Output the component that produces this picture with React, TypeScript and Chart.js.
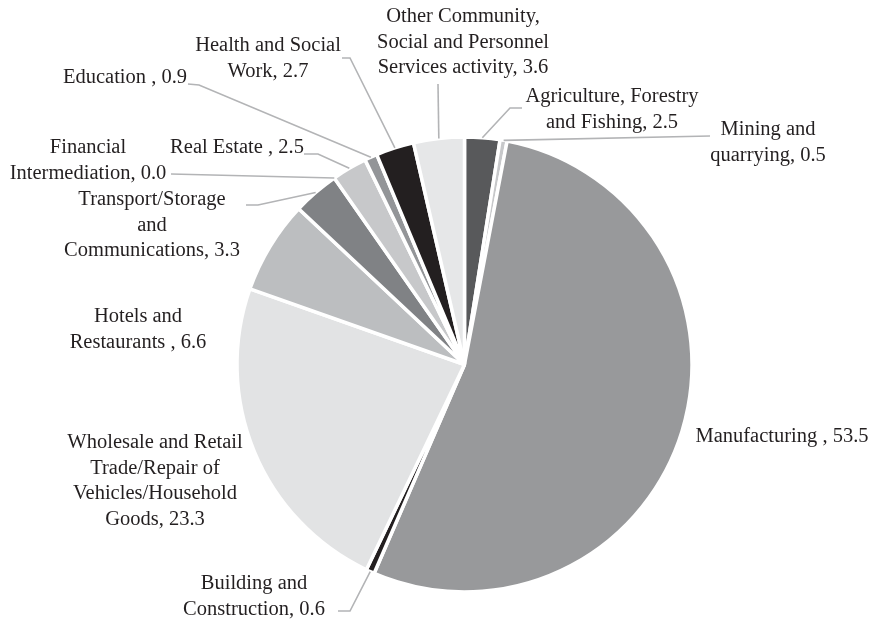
import React, { useEffect, useRef } from "react";
import { Chart, registerables } from "chart.js";

Chart.register(...registerables);

const categories = [
  "Agriculture, Forestry and Fishing",
  "Mining and quarrying",
  "Manufacturing",
  "Building and Construction",
  "Wholesale and Retail Trade/Repair of Vehicles/Household Goods",
  "Hotels and Restaurants",
  "Transport/Storage and Communications",
  "Financial Intermediation",
  "Real Estate",
  "Education",
  "Health and Social Work",
  "Other Community, Social and Personnel Services activity",
];

const values = [2.5, 0.5, 53.5, 0.6, 23.3, 6.6, 3.3, 0.0, 2.5, 0.9, 2.7, 3.6];

const labelLines = [
  ["Agriculture, Forestry", "and Fishing, 2.5"],
  ["Mining and", "quarrying, 0.5"],
  ["Manufacturing , 53.5"],
  ["Building and", "Construction, 0.6"],
  ["Wholesale and Retail", "Trade/Repair of", "Vehicles/Household", "Goods, 23.3"],
  ["Hotels and", "Restaurants , 6.6"],
  ["Transport/Storage", "and", "Communications, 3.3"],
  ["Financial", "Intermediation, 0.0"],
  ["Real Estate , 2.5"],
  ["Education , 0.9"],
  ["Health and Social", "Work, 2.7"],
  ["Other Community,", "Social and Personnel", "Services activity, 3.6"],
];

const colors = [
  "#58595b",
  "#c7c8ca",
  "#98999b",
  "#231f20",
  "#e2e3e4",
  "#bcbec0",
  "#808285",
  "#a7a9ac",
  "#c7c8ca",
  "#939598",
  "#231f20",
  "#e6e7e8",
];

// label layout: center x, first-line center y
const labelPos: [number, number][] = [
  [612, 97],
  [768, 130],
  [782, 437],
  [254, 584],
  [155, 443],
  [138, 317],
  [152, 200],
  [88, 148],
  [237, 148],
  [125, 78],
  [268, 46],
  [463, 17],
];

// leader line waypoints (from label side toward slice)
const leaderPts: [number, number][][] = [
  [[522, 108], [510, 108]],
  [[710, 136]],
  [],
  [[338, 611], [350, 611]],
  [],
  [],
  [[246, 205], [258, 205]],
  [[171, 174]],
  [[304, 154], [318, 154]],
  [[188, 84], [199, 85]],
  [[342, 58], [350, 58]],
  [[438, 84]],
];

const LINE_H = 25.5;

const labelPlugin = {
  id: "pieLabels",
  afterDatasetsDraw(chart: any) {
    const ctx = chart.ctx;
    const meta = chart.getDatasetMeta(0);
    ctx.save();
    // leader lines
    ctx.strokeStyle = "#b3b4b6";
    ctx.lineWidth = 1.6;
    meta.data.forEach((arc: any, i: number) => {
      const pts = leaderPts[i];
      if (!pts || pts.length === 0) return;
      const mid = (arc.startAngle + arc.endAngle) / 2;
      const r = arc.outerRadius;
      const ax = arc.x + Math.cos(mid) * r;
      const ay = arc.y + Math.sin(mid) * r;
      ctx.beginPath();
      ctx.moveTo(pts[0][0], pts[0][1]);
      for (let k = 1; k < pts.length; k++) ctx.lineTo(pts[k][0], pts[k][1]);
      ctx.lineTo(ax, ay);
      ctx.stroke();
    });
    // text
    ctx.fillStyle = "#231f20";
    ctx.font = '20.5px "Liberation Serif", serif';
    ctx.textAlign = "center";
    ctx.textBaseline = "middle";
    labelLines.forEach((lines, i) => {
      const [x, y] = labelPos[i];
      lines.forEach((t, k) => ctx.fillText(t, x, y + k * LINE_H));
    });
    ctx.restore();
  },
};

export default function App() {
  const ref = useRef<HTMLCanvasElement>(null);
  useEffect(() => {
    if (!ref.current) return;
    const chart = new Chart(ref.current, {
      type: "pie",
      data: {
        labels: categories,
        datasets: [
          {
            data: values,
            backgroundColor: colors,
            borderColor: "#ffffff",
            borderWidth: 3.5,
          },
        ],
      },
      options: {
        responsive: false,
        animation: false,
        radius: 227.5,
        rotation: 0,
        layout: { padding: { left: 237, right: 187, top: 137, bottom: 30 } },
        plugins: {
          legend: { display: false },
          tooltip: { enabled: false },
        },
        events: [],
      },
      plugins: [labelPlugin],
    });
    return () => chart.destroy();
  }, []);
  return (
    <div style={{ position: "absolute", left: 0, top: 0, width: 879, height: 622, background: "#fff" }}>
      <canvas ref={ref} width={879} height={622} />
    </div>
  );
}
